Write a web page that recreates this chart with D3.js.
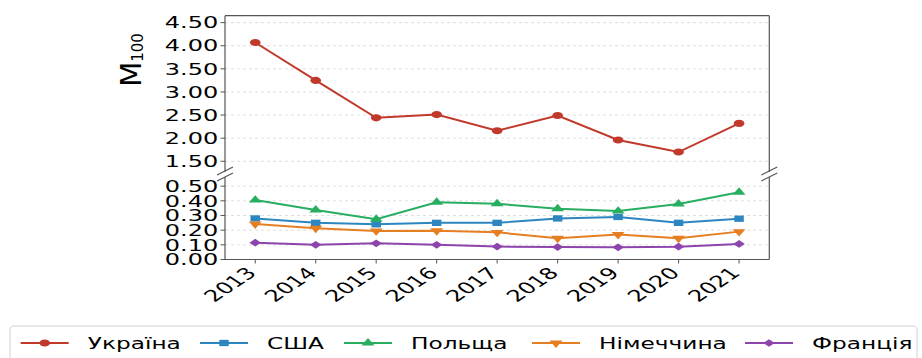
<!DOCTYPE html>
<html>
<head>
<meta charset="utf-8">
<script src="https://cdn.jsdelivr.net/npm/d3@7"></script>
<style>
  body { margin: 0; background: #fff; }
  svg { display: block; }
  text { font-family: "DejaVu Sans", sans-serif; fill: #000; }
</style>
</head>
<body>
<script>
// data
var years = [2013, 2014, 2015, 2016, 2017, 2018, 2019, 2020, 2021];
var ukraine = [4.07, 3.25, 2.44, 2.51, 2.16, 2.49, 1.96, 1.70, 2.32];
var usa     = [0.28, 0.25, 0.24, 0.25, 0.25, 0.28, 0.29, 0.25, 0.278];
var poland  = [0.405, 0.337, 0.275, 0.39, 0.38, 0.346, 0.33, 0.378, 0.458];
var germany = [0.242, 0.213, 0.195, 0.196, 0.185, 0.145, 0.17, 0.145, 0.19];
var france  = [0.115, 0.10, 0.11, 0.10, 0.088, 0.085, 0.083, 0.087, 0.106];
var names   = ["Україна", "США", "Польща", "Німеччина", "Франція"];
var topTicks = [1.5, 2.0, 2.5, 3.0, 3.5, 4.0, 4.5];
var botTicks = [0.0, 0.1, 0.2, 0.3, 0.4, 0.5];

// the reference is stretched horizontally, so draw in a narrower box and stretch it
var SX = 1.5;
var W = 922, H = 358, VW = W / SX;

var series = [
  {name: names[0], values: ukraine, color: "#c0392b", sym: d3.symbolCircle, size: 40, rot: 0, panel: "top"},
  {name: names[1], values: usa,     color: "#2e86c1", sym: d3.symbolSquare, size: 40, rot: 0, panel: "bot"},
  {name: names[2], values: poland,  color: "#27ae60", sym: d3.symbolTriangle, size: 32, rot: 0, panel: "bot"},
  {name: names[3], values: germany, color: "#e67e22", sym: d3.symbolTriangle, size: 32, rot: 180, panel: "bot"},
  {name: names[4], values: france,  color: "#8e44ad", sym: d3.symbolSquare, size: 30, rot: 45, panel: "bot"}
];

var svg = d3.select("body").append("svg")
    .attr("width", W)
    .attr("height", H)
    .attr("viewBox", "0 0 " + VW + " " + H)
    .attr("preserveAspectRatio", "none");

var left = 225 / SX, right = 769.3 / SX;
var topY0 = 15.7, topY1 = 172, botY0 = 177, botY1 = 259.5;

var x = d3.scaleLinear().domain([2012.5, 2021.5]).range([left, right]);
var yTop = d3.scaleLinear().domain([1.268, 4.65]).range([topY1, topY0]);
var yBot = d3.scaleLinear().domain([0, 0.5624]).range([botY1, botY0]);

var spine = "#555";

// grid lines
svg.append("g").selectAll("line")
  .data(topTicks).enter().append("line")
    .attr("x1", left).attr("x2", right)
    .attr("y1", function(d) { return yTop(d); })
    .attr("y2", function(d) { return yTop(d); })
    .attr("stroke", "#dedede").attr("stroke-dasharray", "3,3")
    .attr("vector-effect", "non-scaling-stroke");
svg.append("g").selectAll("line")
  .data(botTicks.slice(1)).enter().append("line")
    .attr("x1", left).attr("x2", right)
    .attr("y1", function(d) { return yBot(d); })
    .attr("y2", function(d) { return yBot(d); })
    .attr("stroke", "#dedede").attr("stroke-dasharray", "3,3")
    .attr("vector-effect", "non-scaling-stroke");

// spines
function seg(x1, y1, x2, y2) {
  svg.append("line")
    .attr("x1", x1).attr("y1", y1).attr("x2", x2).attr("y2", y2)
    .attr("stroke", spine).attr("stroke-width", 1.2)
    .attr("vector-effect", "non-scaling-stroke");
}
seg(left, topY0, right, topY0);
seg(left, topY0, left, topY1);
seg(right, topY0, right, topY1);
seg(left, botY0, left, botY1);
seg(right, botY0, right, botY1);
seg(left, botY1, right, botY1);

// break marks
[left, right].forEach(function(xx) {
  [topY1 - 1, botY0].forEach(function(yy) {
    seg(xx - 5.3, yy + 4, xx + 5.3, yy - 4);
  });
});

// y ticks and labels
var fmt = d3.format(".2f");
function yAxis(scale, ticks) {
  var g = svg.append("g");
  g.selectAll("line").data(ticks).enter().append("line")
    .attr("x1", left - 3).attr("x2", left)
    .attr("y1", function(d) { return scale(d); })
    .attr("y2", function(d) { return scale(d); })
    .attr("stroke", spine).attr("vector-effect", "non-scaling-stroke");
  g.selectAll("text").data(ticks).enter().append("text")
    .attr("x", left - 4.5)
    .attr("y", function(d) { return scale(d); })
    .attr("dy", "0.36em")
    .attr("text-anchor", "end")
    .style("font-size", "16px")
    .text(function(d) { return fmt(d); });
}
yAxis(yTop, topTicks);
yAxis(yBot, botTicks);

// x ticks and rotated labels
var gx = svg.append("g");
gx.selectAll("line").data(years).enter().append("line")
  .attr("x1", function(d) { return x(d); })
  .attr("x2", function(d) { return x(d); })
  .attr("y1", botY1).attr("y2", botY1 + 4)
  .attr("stroke", spine).attr("vector-effect", "non-scaling-stroke");
gx.selectAll("text").data(years).enter().append("text")
  .attr("transform", function(d) { return "translate(" + (x(d) + 1.5) + "," + 274 + ") rotate(-45)"; })
  .attr("text-anchor", "end")
  .style("font-size", "16px")
  .text(function(d) { return d; });

// y label (not stretched in the reference)
var lab = svg.append("text")
  .attr("transform", "translate(" + (141 / SX) + ",60) scale(" + (1 / SX) + ",1) rotate(-90)")
  .attr("text-anchor", "middle");
lab.append("tspan").style("font-size", "29px").text("M");
lab.append("tspan").style("font-size", "15px").attr("dy", "2").text("100");

// lines and markers
function marker(s) {
  return d3.symbol().type(s.sym).size(s.size)();
}
series.forEach(function(s) {
  var y = s.panel === "top" ? yTop : yBot;
  var line = d3.line()
    .x(function(d, i) { return x(years[i]); })
    .y(function(d) { return y(d); });
  svg.append("path")
    .datum(s.values)
    .attr("d", line)
    .attr("fill", "none")
    .attr("stroke", s.color)
    .attr("stroke-width", 2)
    .attr("vector-effect", "non-scaling-stroke");
  svg.append("g").selectAll("path")
    .data(s.values).enter().append("path")
    .attr("d", marker(s))
    .attr("transform", function(d, i) {
      return "translate(" + x(years[i]) + "," + y(d) + ") rotate(" + s.rot + ")";
    })
    .attr("fill", s.color);
});

// legend
var legY = 343;
var legX = [20.7, 200, 344, 532, 745]; // handle starts, screen px
svg.append("rect")
  .attr("x", 10 / SX).attr("y", 326)
  .attr("width", 907 / SX).attr("height", 45)
  .attr("rx", 3).attr("fill", "#fff")
  .attr("stroke", "#d0d0d0").attr("stroke-width", 1)
  .attr("vector-effect", "non-scaling-stroke");

series.forEach(function(s, i) {
  var lx = legX[i] / SX;
  var g = svg.append("g");
  g.append("line")
    .attr("x1", lx).attr("x2", lx + 32)
    .attr("y1", legY).attr("y2", legY)
    .attr("stroke", s.color).attr("stroke-width", 2)
    .attr("vector-effect", "non-scaling-stroke");
  g.append("path")
    .attr("d", marker(s))
    .attr("transform", "translate(" + (lx + 16) + "," + legY + ") rotate(" + s.rot + ")")
    .attr("fill", s.color);
  g.append("text")
    .attr("x", lx + 32 + 12.7)
    .attr("y", legY + 6)
    .style("font-size", "15.5px")
    .text(s.name);
});
</script>
</body>
</html>
